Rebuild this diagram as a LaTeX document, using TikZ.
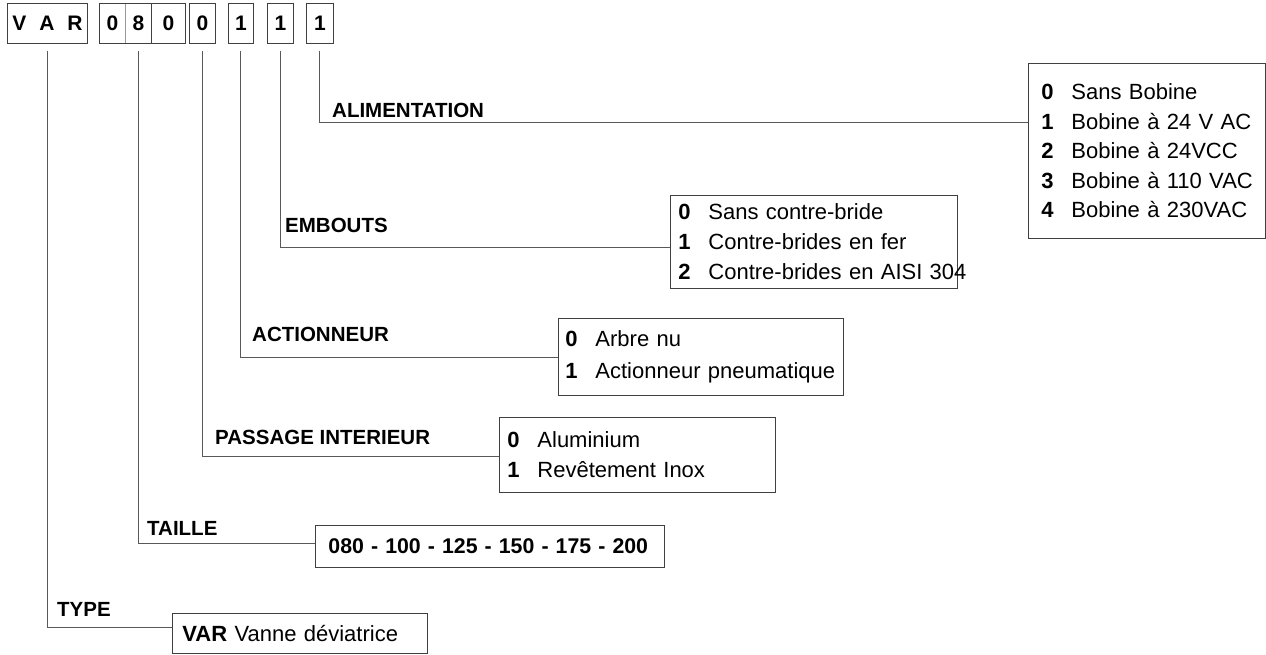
\documentclass[tikz,border=0pt]{standalone}
\usepackage{fontspec}
\setmainfont{Liberation Sans}

\newcommand{\opt}[2]{\mbox{\makebox[30pt][l]{\bfseries #1}#2}}

\begin{document}
\begin{tikzpicture}[
    x=1pt, y=-1pt,
    code/.style={draw=black!75, line width=0.9pt, anchor=north west, minimum height=40pt, inner sep=0pt, font=\fontsize{21}{21}\selectfont\bfseries},
    lbl/.style={anchor=base west, inner sep=0pt, font=\fontsize{20.5}{24}\selectfont\bfseries},
    optbox/.style={draw=black!75, line width=0.9pt, anchor=north west, align=left, inner ysep=0pt, font=\fontsize{22}{30}\selectfont},
    line/.style={draw=black!65, line width=1pt}
]
    \useasboundingbox (0,0) rectangle (1266,655);

    % Code cells
    \node[code, minimum width=80pt] (cVAR) at (7,3) {V\hspace{13pt}A\hspace{13pt}R};
    \node[code, draw=black!40, minimum width=26pt] (cT1) at (99,3) {0};
    \node[code, draw=none, minimum width=26pt] (cT2) at (125,3) {8};
    \node[code, minimum width=34pt] (cT3) at (151,3) {0};
    \draw[black!75, line width=0.9pt] (cT1.north west) -- (cT3.north west) (cT1.south west) -- (cT3.south west) (cT1.north west) -- (cT1.south west);
    \node[code, minimum width=26pt] (cP) at (189,3) {0};
    \node[code, minimum width=25pt] (cA) at (228,3) {1};
    \node[code, minimum width=26pt] (cE) at (267,3) {1};
    \node[code, minimum width=27pt] (cAL) at (306,3) {1};

    % Option boxes
    \node[optbox, inner xsep=13pt, text width=211pt, minimum height=175pt, font=\fontsize{22}{29.5}\selectfont] (alim) at (1028,63)
        {\opt{0}{Sans Bobine}\\ \opt{1}{Bobine à 24 V AC}\\ \opt{2}{Bobine à 24VCC}\\ \opt{3}{Bobine à 110 VAC}\\ \opt{4}{Bobine à 230VAC}};
    \node[optbox, inner xsep=8pt, text width=271pt, minimum height=93pt] (emb) at (670,195)
        {\opt{0}{Sans contre-bride}\\ \opt{1}{Contre-brides en fer}\\ \opt{2}{Contre-brides en AISI 304}};
    \node[optbox, inner xsep=7pt, text width=271pt, minimum height=77pt, font=\fontsize{22}{32}\selectfont] (act) at (558,318)
        {\opt{0}{Arbre nu}\\ \opt{1}{Actionneur pneumatique}};
    \node[optbox, inner xsep=8pt, text width=260pt, minimum height=75pt] (pass) at (499,417)
        {\opt{0}{Aluminium}\\ \opt{1}{Revêtement Inox}};
    \node[optbox, inner xsep=13pt, text width=323pt, minimum height=42pt, font=\fontsize{21.3}{30}\selectfont\bfseries] (taille) at (315,525)
        {\mbox{080 - 100 - 125 - 150 - 175 - 200}};
    \node[optbox, inner xsep=10pt, text width=235pt, minimum height=40pt] (type) at (172,613)
        {\mbox{\textbf{VAR} Vanne déviatrice}};

    % Entry points on the boxes
    \coordinate (alimIn) at (alim.west |- 0,123);
    \coordinate (embIn) at (emb.west |- 0,247);
    \coordinate (actIn) at (act.west |- 0,357);
    \coordinate (passIn) at (pass.west |- 0,456);
    \coordinate (tailleIn) at (taille.west |- 0,543);
    \coordinate (typeIn) at (type.west |- 0,627);

    % Connectors
    \draw[line] ([yshift=-7pt]cAL.south) |- (alimIn);
    \draw[line] ([yshift=-7pt]cE.south) |- (embIn);
    \draw[line] ([yshift=-7pt]cA.south) |- (actIn);
    \draw[line] ([yshift=-7pt]cP.south) |- (passIn);
    \draw[line] ([yshift=-7pt]cT2.south) |- (tailleIn);
    \draw[line] ([yshift=-7pt]cVAR.south) |- (typeIn);

    % Labels
    \node[lbl] (lAL) at (332,118) {ALIMENTATION};
    \node[lbl] (lE) at (285,233) {EMBOUTS};
    \node[lbl] (lA) at (252,341) {ACTIONNEUR};
    \node[lbl] (lP) at (215,444) {PASSAGE INTERIEUR};
    \node[lbl] (lT) at (147,535) {TAILLE};
    \node[lbl] (lV) at (57,616) {TYPE};
\end{tikzpicture}
\end{document}
